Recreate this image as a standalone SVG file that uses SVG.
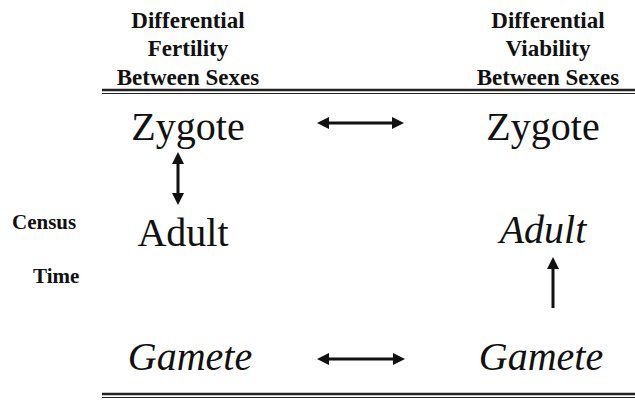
<svg xmlns="http://www.w3.org/2000/svg" width="635" height="400" viewBox="0 0 635 400">
<style>
.c{stroke:#111;stroke-width:3;fill:none}
.p{fill:#111}
.r{stroke:#222}
</style>
<rect width="635" height="400" fill="#fff"/>
<g id="header-fertility" font-family="Liberation Serif" font-weight="bold" font-size="23" text-anchor="middle" fill="#111">
<text x="188" y="28">Differential</text>
<text x="188" y="56">Fertility</text>
<text x="188" y="85">Between Sexes</text>
</g>
<g id="header-viability" font-family="Liberation Serif" font-weight="bold" font-size="23" text-anchor="middle" fill="#111">
<text x="548" y="28">Differential</text>
<text x="548" y="56">Viability</text>
<text x="548" y="85">Between Sexes</text>
</g>
<g id="rules">
<line class="r" x1="102" y1="90" x2="635" y2="90" stroke-width="2.5"/>
<line class="r" x1="102" y1="93.5" x2="635" y2="93.5" stroke-width="1.2"/>
<line class="r" x1="102" y1="394" x2="635" y2="394" stroke-width="2.5"/>
<line class="r" x1="102" y1="397.5" x2="635" y2="397.5" stroke-width="1.2"/>
</g>
<g id="census-time" font-family="Liberation Serif" font-weight="bold" font-size="21" fill="#111">
<text x="12" y="229">Census</text>
<text x="33" y="283">Time</text>
</g>
<g id="zygote-left"><text x="188" y="140" font-family="Liberation Serif" font-size="40" text-anchor="middle" fill="#111">Zygote</text></g>
<g id="zygote-right"><text x="543" y="140" font-family="Liberation Serif" font-size="40" text-anchor="middle" fill="#111">Zygote</text></g>
<g id="adult-left"><text x="183" y="246" font-family="Liberation Serif" font-size="40" text-anchor="middle" fill="#111">Adult</text></g>
<g id="adult-right"><text x="543" y="243" font-family="Liberation Serif" font-size="40" font-style="italic" text-anchor="middle" fill="#111">Adult</text></g>
<g id="gamete-left"><text x="190" y="370" font-family="Liberation Serif" font-size="40" font-style="italic" text-anchor="middle" fill="#111">Gamete</text></g>
<g id="gamete-right"><text x="541" y="370" font-family="Liberation Serif" font-size="40" font-style="italic" text-anchor="middle" fill="#111">Gamete</text></g>
<g id="connectors">
<line class="c" x1="327" y1="123" x2="394" y2="123"/>
<polygon class="p" points="317,123 329,117 329,129"/>
<polygon class="p" points="404,123 392,117 392,129"/>
<line class="c" x1="327" y1="359" x2="395" y2="359"/>
<polygon class="p" points="317,359 329,353 329,365"/>
<polygon class="p" points="405,359 393,353 393,365"/>
<line class="c" x1="178" y1="162" x2="178" y2="195"/>
<polygon class="p" points="178,152 172,164 184,164"/>
<polygon class="p" points="178,205 172,193 184,193"/>
<line class="c" x1="553" y1="267" x2="553" y2="308"/>
<polygon class="p" points="553,257 547,269 559,269"/>
</g>
</svg>
